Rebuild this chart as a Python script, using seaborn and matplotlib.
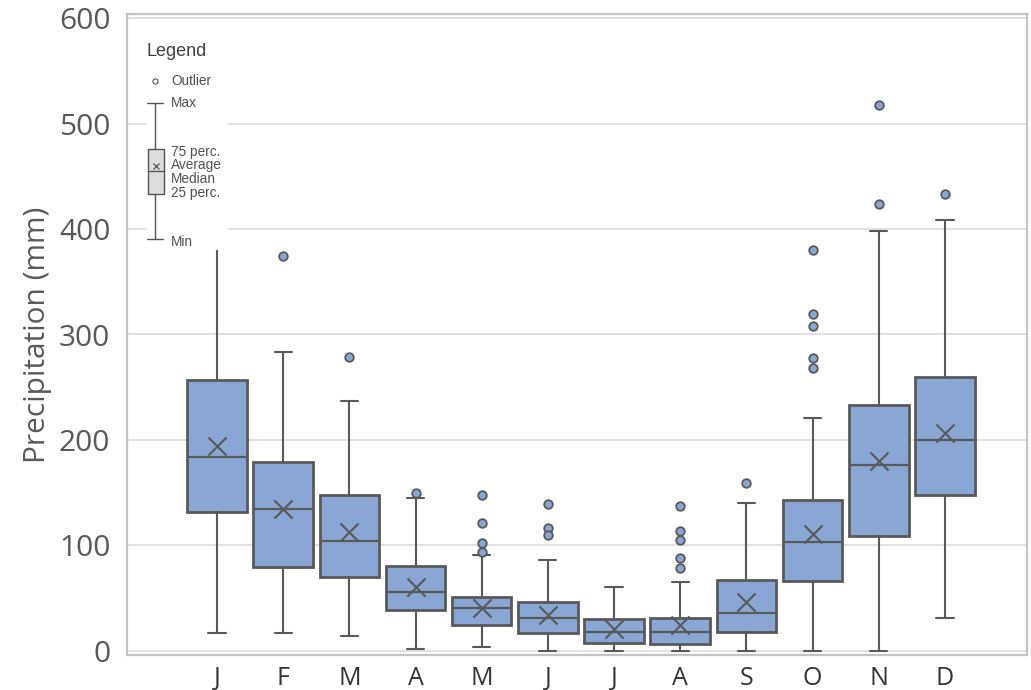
import numpy as np
import pandas as pd
import matplotlib
matplotlib.use("Agg")
import matplotlib.pyplot as plt
import seaborn as sns
from matplotlib.lines import Line2D
from matplotlib.patches import Rectangle

# ---- data ----
months = ["J", "F", "M", "A", "M", "J", "J", "A", "S", "O", "N", "D"]
q1 = [132, 80, 70, 39, 25, 17, 8, 7, 18, 66, 109, 148]
medians = [184, 135, 104, 56, 41, 31, 18, 18, 36, 103, 176, 200]
q3 = [257, 179, 148, 81, 51, 46, 30, 31, 67, 143, 233, 260]
whisk_lo = [17, 17, 14, 2, 4, 0, 0, 0, 0, 0, 0, 31]
whisk_hi = [425, 283, 237, 145, 91, 86, 61, 65, 140, 221, 398, 409]
means = [194, 135, 113, 61, 41, 34, 21, 25, 46, 111, 180, 207]
outliers = [[], [374], [279], [150], [148, 121, 102, 94], [139, 117, 110], [],
            [137, 114, 105, 88, 79], [159], [380, 319, 308, 278, 268], [518, 424], [433]]
y_ticks = [0, 100, 200, 300, 400, 500, 600]

# ---- style ----
sns.set_theme(style="white")
plt.rcParams["font.family"] = ["Open Sans", "DejaVu Sans"]

TXT = "#595959"
EDGE = "#595959"
FILL = "#8aa6d4"

W, H = 1031, 690
fig = plt.figure(figsize=(W / 100, H / 100), dpi=100)
ax = fig.add_axes([127 / W, 1 - 655 / H, 900 / W, 641 / H])

positions = list(range(len(months)))
stats = []
for i in positions:
    stats.append(dict(med=medians[i], q1=q1[i], q3=q3[i],
                      whislo=whisk_lo[i], whishi=whisk_hi[i],
                      mean=means[i], fliers=[], label=months[i]))

ax.bxp(stats, positions=positions, widths=0.9, showfliers=False, showmeans=False,
       patch_artist=True, capwidths=0.26,
       boxprops=dict(facecolor=FILL, edgecolor=EDGE, linewidth=2.0),
       medianprops=dict(color=EDGE, linewidth=1.6),
       whiskerprops=dict(color=EDGE, linewidth=1.5),
       capprops=dict(color=EDGE, linewidth=1.5), zorder=3)

# means
mean_df = pd.DataFrame({"pos": positions, "mean": means})
sns.scatterplot(data=mean_df, x="pos", y="mean", marker="x", s=170,
                color=EDGE, linewidth=1.5, ax=ax, zorder=5, legend=False)

# outliers
out_pos, out_val = [], []
for i, vals in enumerate(outliers):
    for v in vals:
        out_pos.append(i)
        out_val.append(v)
out_df = pd.DataFrame({"pos": out_pos, "val": out_val})
sns.scatterplot(data=out_df, x="pos", y="val", marker="o", s=38,
                color=FILL, edgecolor=EDGE, linewidth=1.3, ax=ax, zorder=5, legend=False)

ax.set_xlim(-1.36, 12.24)
ax.set_ylim(-3.8, 603.8)
ax.set_yticks(y_ticks)
ax.set_yticklabels([str(t) for t in y_ticks], fontsize=21.5, color=TXT)
ax.set_xticks(positions)
ax.set_xticklabels(months, fontsize=18, color="#333333")
ax.tick_params(axis="y", length=0, pad=12)
ax.tick_params(axis="x", length=0, pad=8)
ax.set_xlabel("")
ax.set_ylabel("Precipitation (mm)", fontsize=21.5, color=TXT, labelpad=5)
ax.yaxis.grid(True, color="#dcdcdc", linewidth=1.2)
ax.xaxis.grid(False)
ax.set_axisbelow(True)
for s in ax.spines.values():
    s.set_color("#c4c4c4")
    s.set_linewidth(1.6)


# ---- hand-drawn legend (figure pixel coordinates) ----
def fx(x):
    return x / W


def fy(y):
    return 1 - y / H


fig.add_artist(Rectangle((fx(147), fy(250)), (228 - 147) / W, (250 - 32) / H,
                         transform=fig.transFigure, facecolor="white",
                         edgecolor="none", zorder=10))
LC = "#555555"
fig.text(fx(147), fy(52), "Legend", fontsize=13, color="#404040",
         va="center", ha="left", zorder=11, family=["Liberation Sans", "DejaVu Sans"])
fig.add_artist(Line2D([fx(155)], [fy(81)], marker="o", markersize=3.8,
                      markerfacecolor="white", markeredgecolor=LC, markeredgewidth=0.8,
                      transform=fig.transFigure, zorder=11))
# whisker, caps
for (y0, y1) in [(103, 149), (194, 239)]:
    fig.add_artist(Line2D([fx(155), fx(155)], [fy(y0), fy(y1)], color=LC, lw=1.0,
                          transform=fig.transFigure, zorder=11))
for y in [103, 239]:
    fig.add_artist(Line2D([fx(147), fx(163)], [fy(y), fy(y)], color=LC, lw=1.0,
                          transform=fig.transFigure, zorder=11))
fig.add_artist(Rectangle((fx(147.5), fy(194)), 16.5 / W, 45 / H,
                         transform=fig.transFigure, facecolor="#dedede",
                         edgecolor=LC, lw=1.0, zorder=11))
fig.add_artist(Line2D([fx(147.5), fx(164)], [fy(171), fy(171)], color=LC, lw=1.0,
                      transform=fig.transFigure, zorder=12))
fig.add_artist(Line2D([fx(155.5)], [fy(166)], marker="x", markersize=5,
                      color=LC, markeredgewidth=0.9,
                      transform=fig.transFigure, zorder=12))
leg_items = [("Outlier", 81), ("Max", 103), ("75 perc.", 152), ("Average", 165),
             ("Median", 179), ("25 perc.", 193), ("Min", 242)]
for txt, y in leg_items:
    fig.text(fx(171), fy(y), txt, fontsize=9.8, color="#505050", va="center",
             ha="left", zorder=12, family=["Liberation Sans", "DejaVu Sans"],
             clip_on=False)

fig.savefig("out.png", dpi=100)
